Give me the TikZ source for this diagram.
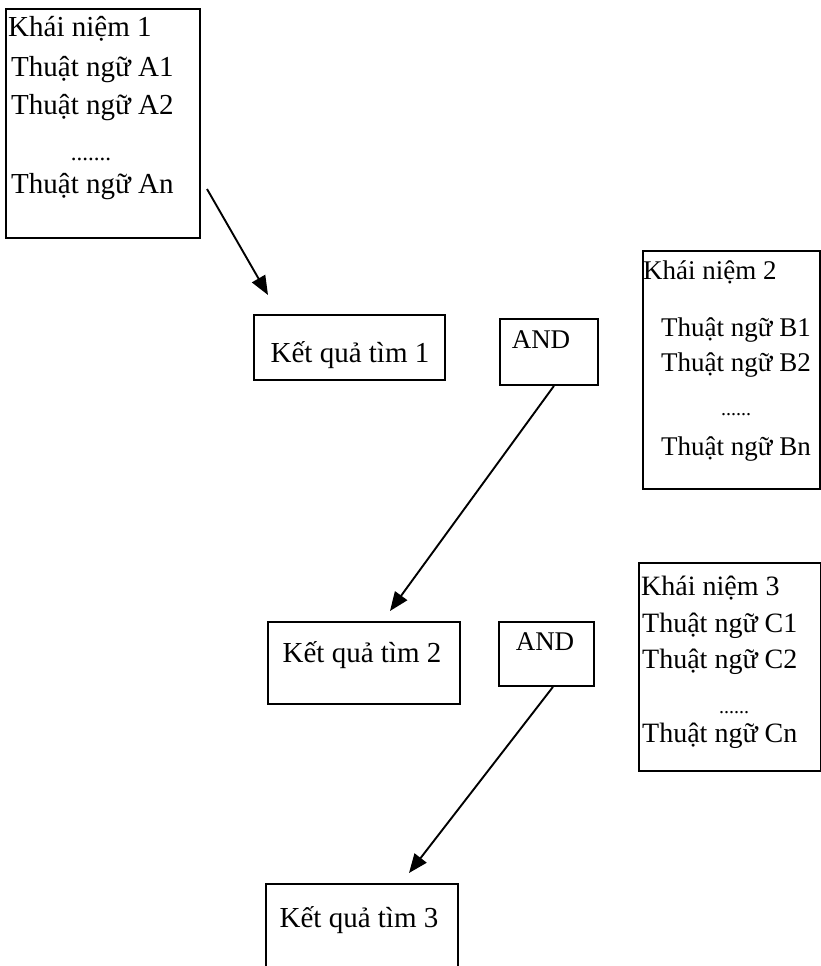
\documentclass[tikz,border=0pt]{standalone}
\usepackage{fontspec}
\setmainfont{Liberation Serif}
\usetikzlibrary{arrows.meta}
\begin{document}
\begin{tikzpicture}[x=1pt,y=-1pt,
  box/.style={draw, line width=1.9pt, inner sep=0pt, anchor=north west},
  txt/.style={inner sep=0pt, anchor=base west, font=\fontsize{29}{34}\selectfont},
  ctxt/.style={inner sep=0pt, anchor=base, font=\fontsize{29}{34}\selectfont},
  dotrow/.style={inner sep=0pt, anchor=base, font=\fontsize{20}{20}\selectfont},
  arr/.style={line width=1.9pt, -{Triangle[length=19pt,width=15pt]}}]
\useasboundingbox (0,0) rectangle (821,966);

% concept boxes
\node[box, minimum width=194pt, minimum height=229pt] (k1) at (5,8) {};
\node[box, minimum width=177pt, minimum height=238pt] (k2) at (642,250) {};
\node[box, minimum width=182pt, minimum height=208pt] (k3) at (638,562) {};

% result boxes
\node[box, minimum width=191pt, minimum height=65pt] (r1) at (253,314) {};
\node[box, minimum width=192pt, minimum height=82pt] (r2) at (267,621) {};
\node[box, minimum width=192pt, minimum height=95pt] (r3) at (265,883) {};

% operator boxes
\node[box, minimum width=98pt, minimum height=66pt] (and1) at (499,318) {};
\node[box, minimum width=95pt, minimum height=64pt] (and2) at (498,621) {};

% concept 1
\node[txt] (k1a) at (8,37) {Khái niệm 1};
\node[txt] (k1b) at (11,77) {Thuật ngữ A1};
\node[txt] (k1c) at (11,114) {Thuật ngữ A2};
\node[dotrow, font=\fontsize{23}{23}\selectfont] (k1d) at (91,160) {.......};
\node[txt] (k1e) at (11,193) {Thuật ngữ An};

% concept 2
\begin{scope}[txt/.append style={font=\fontsize{27}{32}\selectfont}]
\node[txt] (k2a) at (643,279) {Khái niệm 2};
\node[txt] (k2b) at (661,336) {Thuật ngữ B1};
\node[txt] (k2c) at (661,371) {Thuật ngữ B2};
\node[dotrow] (k2d) at (736,415) {......};
\node[txt] (k2e) at (661,455) {Thuật ngữ Bn};
\end{scope}

% concept 3
\begin{scope}[txt/.append style={font=\fontsize{28}{33}\selectfont}]
\node[txt] (k3a) at (641,595) {Khái niệm 3};
\node[txt] (k3b) at (642,632) {Thuật ngữ C1};
\node[txt] (k3c) at (642,668) {Thuật ngữ C2};
\node[dotrow] (k3d) at (734,713) {......};
\node[txt] (k3e) at (642,742) {Thuật ngữ Cn};
\end{scope}

% results and operators
\node[ctxt] (r1t) at (350,362) {Kết quả tìm 1};
\node[ctxt] (r2t) at (362,662) {Kết quả tìm 2};
\node[ctxt] (r3t) at (359,927) {Kết quả tìm 3};
\node[ctxt, font=\fontsize{27}{32}\selectfont] (and1t) at (541,348) {AND};
\node[ctxt, font=\fontsize{27}{32}\selectfont] (and2t) at (545,650) {AND};

% arrows
\coordinate (a1s) at (207,189);
\coordinate (a1e) at (268,295);
\coordinate (a2e) at (390,611);
\coordinate (a3e) at (409,873);
\draw[arr] (a1s) -- (a1e);
\draw[arr] ([xshift=5pt]and1.south) -- (a2e);
\draw[arr] ([xshift=6.5pt]and2.south) -- (a3e);
\end{tikzpicture}
\end{document}
